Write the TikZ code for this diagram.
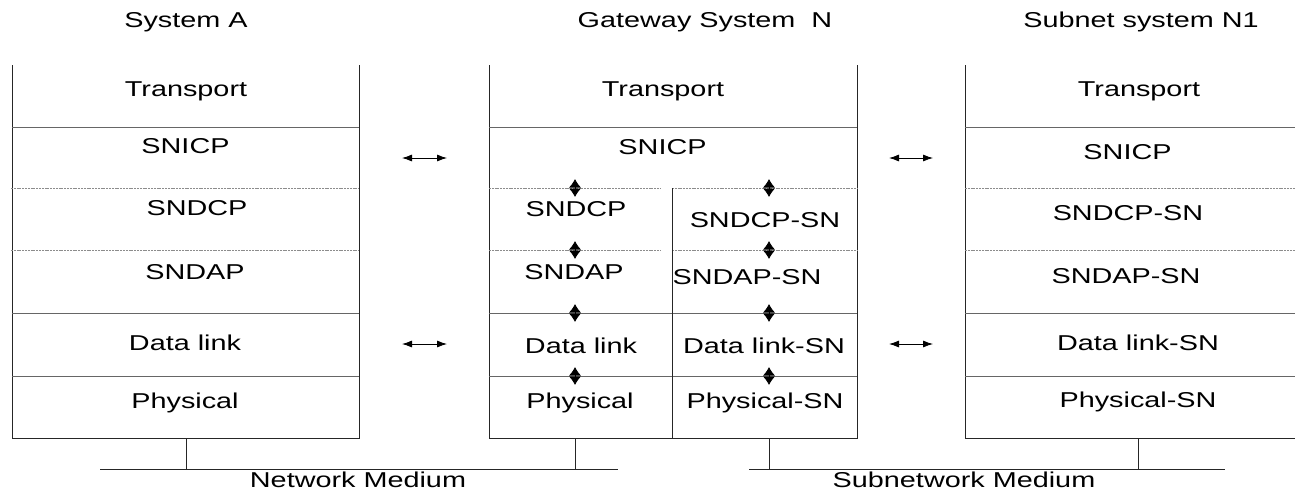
\documentclass[tikz,border=0pt]{standalone}
\usepackage{fontspec}
\setmainfont{Liberation Sans}[FakeStretch=1.34]
\usetikzlibrary{arrows.meta}

\tikzset{
  boxedge/.style={draw=black!85, line width=0.9pt},
  fullrule/.style={draw=black!60, line width=0.9pt},
  softrule/.style={draw=black!45, line width=0.6pt, dash pattern=on 2pt off 0.8pt},
  lab/.style={anchor=base, inner sep=0pt, font=\fontsize{21.5}{24}\selectfont},
  hlink/.style={{Latex[length=10pt,width=7pt]}-{Latex[length=10pt,width=7pt]}, line width=0.8pt},
  vlink/.style={{Latex[length=8.5pt,width=12pt]}-{Latex[length=8.5pt,width=12pt]}, line width=0.8pt},
}

\begin{document}
\begin{tikzpicture}[x=1pt,y=-1pt]
\useasboundingbox (0,0) rectangle (1295,490);

% ---------- titles ----------
\node[lab] (tA) at (186,27) {System A};
\node[lab] (tN) at (705,27) {Gateway System\ \ N};
\node[lab] (tN1) at (1141,27) {Subnet system N1};

% ---------- System A stack ----------
\draw[boxedge] (12,65) -- (12,438) -- (359,438) -- (359,65);
\draw[fullrule] (12,127) -- (359,127);
\draw[softrule] (11,188) -- (359,188);
\draw[softrule] (11,250) -- (359,250);
\draw[fullrule] (12,313) -- (359,313);
\draw[fullrule] (12,376) -- (359,376);
\node[lab] (aT) at (186,96.7) {Transport};
\node[lab] (aI) at (185.5,153.7) {SNICP};
\node[lab] (aC) at (197,215.7) {SNDCP};
\node[lab] (aA) at (195,279.7) {SNDAP};
\node[lab] (aL) at (185,350.7) {Data link};
\node[lab] (aP) at (185,408.5) {Physical};

% ---------- Gateway system N stack ----------
\draw[boxedge] (489,65) -- (489,438) -- (857,438) -- (857,65);
\draw[fullrule] (489,127) -- (857,127);
\draw[softrule] (489,188) -- (661,188);
\draw[softrule] (672,188) -- (857,188);
\draw[softrule] (489,250) -- (661,250);
\draw[softrule] (672,250) -- (857,250);
\draw[fullrule] (489,313) -- (857,313);
\draw[fullrule] (489,376) -- (857,376);
\draw[boxedge] (672,188) -- (672,438);
\node[lab] (gT) at (663,96.7) {Transport};
\node[lab] (gI) at (662.5,154.7) {SNICP};
\node[lab] (gC) at (576,216.7) {SNDCP};
\node[lab] (gCs) at (765,227.7) {SNDCP-SN};
\node[lab] (gA) at (574,279.7) {SNDAP};
\node[lab] (gAs) at (747,284.7) {SNDAP-SN};
\node[lab] (gL) at (581,353.7) {Data link};
\node[lab] (gLs) at (764,353.7) {Data link-SN};
\node[lab] (gP) at (580,408.5) {Physical};
\node[lab] (gPs) at (765,408.5) {Physical-SN};

% ---------- Subnet system N1 stack ----------
\draw[boxedge] (1295,438) -- (965,438) -- (965,65);
\draw[fullrule] (965,127) -- (1295,127);
\draw[softrule] (965,188) -- (1295,188);
\draw[softrule] (965,250) -- (1295,250);
\draw[fullrule] (965,313) -- (1295,313);
\draw[fullrule] (965,376) -- (1295,376);
\node[lab] (sT) at (1139,96.7) {Transport};
\node[lab] (sI) at (1127.5,159.5) {SNICP};
\node[lab] (sC) at (1128,220.5) {SNDCP-SN};
\node[lab] (sA) at (1126,283) {SNDAP-SN};
\node[lab] (sL) at (1138,350.5) {Data link-SN};
\node[lab] (sP) at (1138,407.5) {Physical-SN};

% ---------- peer relations between stacks ----------
\coordinate (pa1) at (402,158);  \coordinate (pg1) at (447,158);
\coordinate (pa2) at (402,344);  \coordinate (pg2) at (447,344);
\coordinate (pg3) at (889,158);  \coordinate (ps3) at (933,158);
\coordinate (pg4) at (889,344);  \coordinate (ps4) at (933,344);
\draw[hlink] (pa1) -- (pg1);
\draw[hlink] (pa2) -- (pg2);
\draw[hlink] (pg3) -- (ps3);
\draw[hlink] (pg4) -- (ps4);

% ---------- layer boundaries inside the gateway ----------
\foreach \col/\x in {l/575, r/769}{
  \foreach \row/\y in {1/188, 2/250, 3/313, 4/376}{
    \coordinate (v\col\row a) at (\x,\y-9);
    \coordinate (v\col\row b) at (\x,\y+9);
    \draw[vlink] (v\col\row a) -- (v\col\row b);
  }
}

% ---------- media ----------
\coordinate (mA) at (186,438);   \coordinate (mAe) at (186,469);
\coordinate (mG) at (575,438);   \coordinate (mGe) at (575,469);
\coordinate (mGs) at (769,438);  \coordinate (mGse) at (769,469);
\coordinate (mS) at (1138,438);  \coordinate (mSe) at (1138,469);
\coordinate (net0) at (100,469); \coordinate (net1) at (618,469);
\coordinate (sub0) at (749,469); \coordinate (sub1) at (1225,469);
\draw[boxedge] (mA) -- (mAe);
\draw[boxedge] (mG) -- (mGe);
\draw[boxedge] (mGs) -- (mGse);
\draw[boxedge] (mS) -- (mSe);
\draw[boxedge] (net0) -- (net1);
\draw[boxedge] (sub0) -- (sub1);
\node[lab] (nm) at (358,487) {Network Medium};
\node[lab] (sm) at (964,487) {Subnetwork Medium};
\end{tikzpicture}
\end{document}
